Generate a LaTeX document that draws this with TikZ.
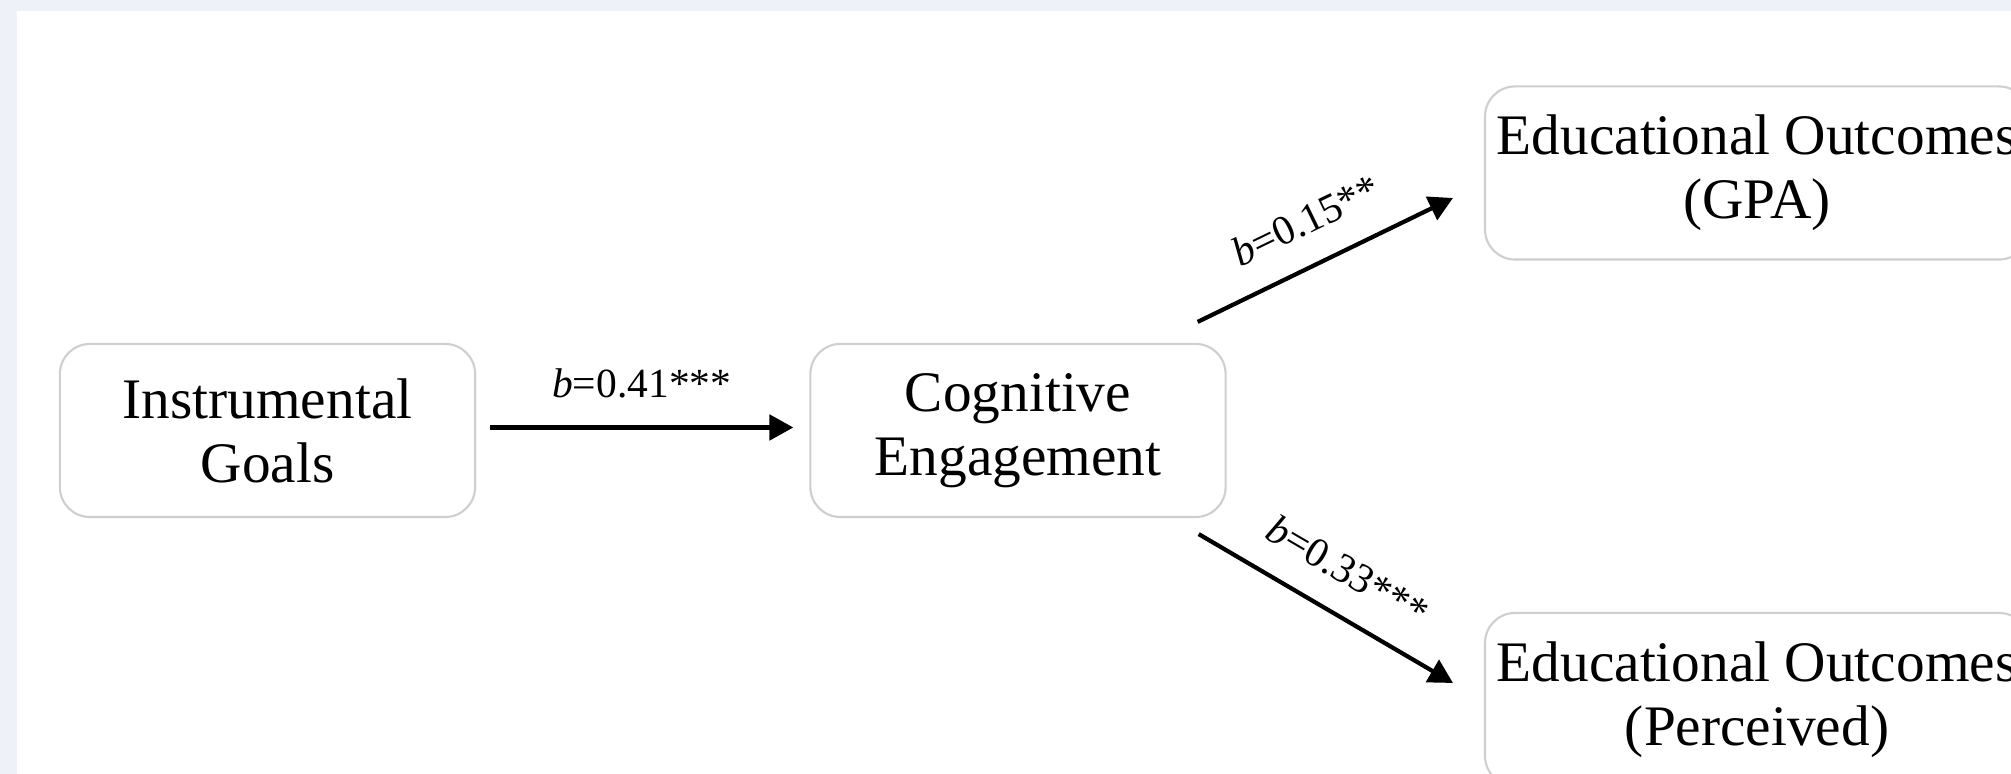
\documentclass[tikz,border=0pt]{standalone}
\usepackage{fontspec}
\setmainfont{Liberation Serif}
\usetikzlibrary{arrows.meta, calc}
\definecolor{panel}{HTML}{EEF1F7}
\definecolor{edge}{HTML}{CFCFCF}

\begin{document}
\begin{tikzpicture}[x=0.01cm, y=-0.01cm,
  box/.style={draw=edge, line width=0.6pt, fill=white, rounded corners=0.3cm,
              minimum width=4.15cm, minimum height=1.73cm, align=center,
              font=\fontsize{16.3}{18.2}\selectfont},
  wide/.style={box, minimum width=5.38cm},
  link/.style={line width=1.2pt, -{Triangle[length=6.8pt, width=7.2pt]}},
  coef/.style={font=\fontsize{11.8}{13}\selectfont, above=4.5pt}
]
% Page and panel
\clip (0,0) rectangle (2011,774);
\fill[panel] (0,0) rectangle (2011,774);
\fill[white] (17,11) rectangle (2011,774);

% Variables
\node[box]  (ig)  at (267.5,430.5) {Instrumental\\Goals};
\node[box]  (ce)  at (1018,430.5)  {Cognitive\\Engagement};
\node[wide] (gpa) at (1757,173)    {Educational Outcomes\\(GPA)};
\node[wide] (pcv) at (1757,699.5)  {Educational Outcomes\\(Perceived)};

% Paths with coefficients
\draw[link] ($(ig.east)+(14,-3)$) -- node[coef] {\textit{b}=0.41***} ($(ce.west)+(-16,-3)$);
\draw[link] ($(ce.north east)+(-29,-21)$) -- node[coef, sloped] {\textit{b}=0.15**} ($(gpa.west)+(-31,25)$);
\draw[link] ($(ce.south east)+(-28,16)$) -- node[coef, sloped] {\textit{b}=0.33***} ($(pcv.west)+(-31,-16.5)$);
\end{tikzpicture}
\end{document}
